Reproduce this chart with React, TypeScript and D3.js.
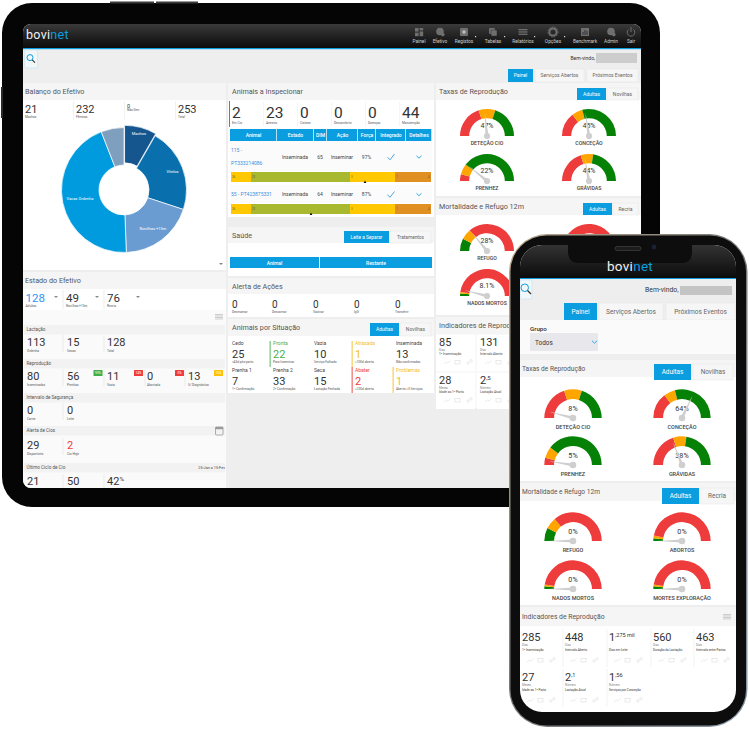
import React from "react";
import * as d3 from "d3";

// ---- values ----
const pieNames = ["Machos", "Vitelos", "Novilhas +15m", "Vacas Ordenha", ""];
const pieValues = [21, 55, 49, 113, 15];
const pieColors = ["#15568f", "#0a6fad", "#6a9cd2", "#009bdf", "#7f9fbe"];

const balanceValues = ["21", "232", "0", "253"];
const balanceLabels = ["Machos", "Fêmeas", "Não Gen", "Total"];

const stateValues = ["128", "49", "76"];
const stateLabels = ["Adultas", "Novilhas +15m", "Recria"];
const lactValues = ["113", "15", "128"];
const lactLabels = ["Ordenha", "Secas", "Total"];
const reproValues = ["80", "56", "11", "0", "13"];
const reproLabels = ["Inseminadas", "Prenhas", "Vazia", "Abortada", "S/ Diagnóstico"];
const reproBadges = ["", "93%", "14%", "0%", "16%"];
const reproBadgeColors = ["", "#3fae49", "#ee3c3c", "#ee3c3c", "#ffc107"];
const safetyValues = ["0", "0"];
const safetyLabels = ["Carne", "Leite"];
const heatValues = ["29", "2"];
const heatLabels = ["Disponíveis", "Cio Hoje"];
const cycleValues = ["21", "50", "42"];

const inspectValues = ["2", "23", "0", "0", "0", "44"];
const inspectLabels = ["Em Cio", "Anestro", "Cistose", "Desconforto", "Doenças", "Manutenção"];
const tableHeads = ["Animal", "Estado", "DIM", "Ação", "Força", "Integrado", "Detalhes"];
const animalDim = ["65", "64"];
const animalForce = ["97%", "87%"];
const cycleBands = [10, 49.5, 22.5, 18];
const cycleBandColors = ["#ffc800", "#a8b82f", "#ffc800", "#e09020"];
const cycleBandTexts = ["26", "23", "3", "1"];
const cycleMarkers = [67, 40];

const actionValues = ["0", "0", "0", "0", "0"];
const actionLabels = ["Desmamar", "Descornar", "Vacinar", "IgG", "Transferir"];

const situationTitles = ["Cedo", "Pronta", "Vazia", "Atrasada", "Inseminada", "Prenha 1", "Prenha 2", "Seca", "Abater", "Problemas"];
const situationValues = ["25", "22", "10", "1", "13", "7", "33", "15", "2", "1"];
const situationNotes = ["<45d pós-parto", "Para Inseminar", "Serviço Falhado", ">100d aberta", "Não confirmadas", "1ª Confirmação", "2ª Confirmação", "Lactação Fechada", ">230d aberta", "Aberta >3 Serviços"];
const situationColors = ["#444", "#4caf50", "#444", "#f5bd1f", "#444", "#444", "#444", "#444", "#ee3c3c", "#f5bd1f"];

const rateNames = ["DETEÇÃO CIO", "CONCEÇÃO", "PRENHEZ", "GRÁVIDAS"];
const rateBands = [[40, 60], [29, 42], [8, 21], [40, 55]];
const tabletRates = [47, 45, 22, 44];
const phoneRates = [8, 64, 5, 38];
const lossNames = ["REFUGO", "ABORTOS", "NADOS MORTOS", "MORTES EXPLORAÇÃO"];
const lossBands = [[15, 28], [3, 6], [3, 5], [3, 5]];
const tabletLosses = [28, 0, 8.1, 0];
const phoneLosses = [0, 0, 0, 0];
const rateColors = ["#ee3c3c", "#ffa500", "#058205"];
const lossColors = ["#058205", "#ffa500", "#ee3c3c"];

const kpiValues = ["285", "448", "1", "560", "463", "27", "2", "1"];
const kpiSups = ["", "", ",275 mil", "", "", "", ",1", ",56"];
const kpiUnits = ["Dias", "Dias", "", "Dias", "Dias", "Meses", "Número", "Número"];
const kpiNames = ["1ª Inseminação", "Intervalo Aberto", "Dias em Leite", "Duração da Lactação", "Intervalo entre Partos", "Idade ao 1º Parto", "Lactação Atual", "Serviços por Conceção"];
const tabletKpiValues = ["85", "131", "28", "2"];
const tabletKpiSups = ["", "", "", ",5"];
const tabletKpiUnits = ["Dias", "Dias", "Meses", "Número"];
const tabletKpiNames = ["1ª Inseminação", "Intervalo Aberto", "Idade ao 1º Parto", "Lactação Atual"];

const navLabels = ["Painel", "Efetivo", "Registos", "Tabelas", "Relatórios", "Opções", "Benchmark", "Admin", "Sair"];

// ---- styling ----
const FONT = "Roboto, sans-serif";
const BLUE = "#0a9ddf";
const INK = "#444";

const T = ({ x, y, s = 6, c = INK, a = "start", w = 400, children }: any) => (
    <text x={x} y={y} fontSize={s} fill={c} textAnchor={a} fontWeight={w} fontFamily={FONT}>{children}</text>
);

const Stat = ({ x, y, value, sup, label, size = 12, color = "#333", labelSize = 3.2, gap = 4.5 }: any) => (
    <g>
        <text x={x} y={y} fontSize={size} fill={color} fontFamily={FONT}>
            {value}
            {sup ? <tspan fontSize={size * 0.55} dy={-size * 0.36}>{sup}</tspan> : null}
        </text>
        <T x={x} y={y + gap} s={labelSize} c="#555">{label}</T>
    </g>
);

const Header = ({ x, y, w, h = 17, title, size = 7.2, tx = 3 }: any) => (
    <g>
        <rect x={x} y={y} width={w} height={h} fill="#f5f5f5" />
        <T x={x + tx} y={y + h / 2 + size * 0.36} s={size} c="#555">{title}</T>
    </g>
);

const Tab = ({ x0, x1, y0, y1, label, active, size = 5 }: any) => (
    <g>
        <rect x={x0} y={y0} width={x1 - x0} height={y1 - y0} fill={active ? BLUE : "#f6f6f6"} stroke={active ? "none" : "#e6e6e6"} strokeWidth={0.5} />
        <T x={(x0 + x1) / 2} y={(y0 + y1) / 2 + size * 0.36} s={size} a="middle" c={active ? "#fff" : "#666"}>{label}</T>
    </g>
);

// half-doughnut gauge, three bands and a needle
const Gauge = ({ cx, cy, r, bands, colors, value, text, name, valueDy, nameDy, valueSize, nameSize }: any) => {
    const angle = d3.scaleLinear().domain([0, 100]).range([-Math.PI / 2, Math.PI / 2]);
    const arc = d3.arc<any>().innerRadius(r * 0.66).outerRadius(r);
    const edges = [0, bands[0], bands[1], 100];
    const a = angle(value);
    const len = r * 0.86;
    const needle = d3.line()([
        [Math.sin(a) * len, -Math.cos(a) * len],
        [Math.cos(a) * 1.6, Math.sin(a) * 1.6],
        [-Math.cos(a) * 1.6, -Math.sin(a) * 1.6],
    ]) as string;
    return (
        <g transform={`translate(${cx},${cy})`}>
            {colors.map((c: string, i: number) => (
                <path key={i} fill={c} d={arc({ startAngle: angle(edges[i]), endAngle: angle(edges[i + 1]) }) as string} />
            ))}
            <T x={0} y={valueDy} s={valueSize} a="middle" c="#333">{text ?? `${value}%`}</T>
            <path d={needle} fill="#cfcfcf" />
            <circle r={r * 0.115} fill="#cfcfcf" />
            <T x={0} y={nameDy} s={nameSize} a="middle" c="#444" w={500}>{name}</T>
        </g>
    );
};

const MiniIcons = ({ x, y }: any) => (
    <g transform={`translate(${x},${y})`} fill="none" stroke="#e2e2e2" strokeWidth={0.7}>
        <path d="M0 2 L2.5 0 L4 1.2 L6.5 -1.5" />
        <rect x={11} y={-1.5} width={5} height={3.5} />
        <circle cx={24} cy={1} r={1.2} />
        <circle cx={27} cy={-1.2} r={1.2} />
    </g>
);

const MenuIcon = ({ x, y }: any) => (
    <g fill="#c9c9c9">
        {[0, 1, 2, 3].map(i => <rect key={i} x={x} y={y + i * 1.5} width={8} height={0.9} />)}
    </g>
);

const Search = ({ x, y, w, h, k = 1 }: any) => (
    <g>
        <rect x={x} y={y} width={w} height={h} rx={1.5} fill="#f2f7fa" stroke="#bfe3f4" strokeWidth={0.6} />
        <circle cx={x + w / 2 - 1 * k} cy={y + h / 2 - 1.4 * k} r={3 * k} fill="none" stroke={BLUE} strokeWidth={1} />
        <line x1={x + w / 2 + 1.2 * k} y1={y + h / 2 + 0.8 * k} x2={x + w / 2 + 4 * k} y2={y + h / 2 + 3.6 * k} stroke="#333" strokeWidth={1.2} />
    </g>
);

const Logo = ({ x, y, s, a = "start" }: any) => (
    <text x={x} y={y} fontSize={s} fontFamily={FONT} textAnchor={a} letterSpacing={0.3}>
        <tspan fill="#f2f2f2">bovi</tspan><tspan fill={BLUE}>net</tspan>
    </text>
);

const NavIcon = ({ x, y, i }: any) => {
    const c = "#6f6f6f";
    const name = navLabels[i];
    if (name === "Painel") return <g fill={c}><rect x={x - 4} y={y - 4} width={3.6} height={3.6} /><rect x={x + 0.6} y={y - 4} width={3.6} height={2.4} /><rect x={x - 4} y={y + 0.6} width={3.6} height={3.6} /><rect x={x + 0.6} y={y - 0.6} width={3.6} height={4.8} /></g>;
    if (name === "Registos") return <g><rect x={x - 4} y={y - 4} width={8} height={8} rx={1} fill={c} /><path d={`M${x - 2} ${y}H${x + 2}M${x} ${y - 2}V${y + 2}`} stroke="#ddd" strokeWidth={0.9} /></g>;
    if (name === "Tabelas") return <g fill={c}><rect x={x - 4} y={y - 4} width={6} height={6} rx={1} /><rect x={x - 2} y={y - 2} width={6} height={6} rx={1} stroke="#222" strokeWidth={0.4} /></g>;
    if (name === "Relatórios") return <g fill={c}>{[0, 1, 2].map(k => <rect key={k} x={x - 4.5} y={y - 3 + k * 2.3} width={9} height={1.3} />)}</g>;
    if (name === "Opções") return <g><circle cx={x} cy={y} r={3.6} fill="none" stroke={c} strokeWidth={2} /><circle cx={x} cy={y} r={5} fill="none" stroke={c} strokeWidth={1} strokeDasharray="1.5 1.2" /></g>;
    if (name === "Benchmark") return <g><rect x={x - 4} y={y - 4} width={8} height={8} fill={c} /><path d={`M${x - 2} ${y + 3}V${y}M${x} ${y + 3}V${y - 2}M${x + 2} ${y + 3}V${y - 1}`} stroke="#222" strokeWidth={0.8} /></g>;
    if (name === "Sair") return <g fill="none" stroke={c} strokeWidth={1}><path d={`M${x - 2.4} ${y - 2.6}A3.8 3.8 0 1 0 ${x + 2.4} ${y - 2.6}`} /><line x1={x} y1={y - 5} x2={x} y2={y} /></g>;
    return <g fill={c}><circle cx={x} cy={y - 0.5} r={3.8} /><circle cx={x + 2.8} cy={y + 2.6} r={1.8} /></g>;
};

const Check = ({ x, y }: any) => <path d={`M${x - 3.5} ${y + 0.2} L${x - 1} ${y + 2.8} L${x + 3.5} ${y - 3}`} fill="none" stroke="#3a9bdc" strokeWidth={0.9} />;
const Chevron = ({ x, y }: any) => <path d={`M${x - 2.5} ${y - 1.2} L${x} ${y + 1.2} L${x + 2.5} ${y - 1.2}`} fill="none" stroke="#1aa0e0" strokeWidth={0.9} />;
const Caret = ({ x, y }: any) => <path d={`M${x - 2} ${y - 1} H${x + 2} L${x} ${y + 1} Z`} fill="#888" />;

const BalancePie = ({ cx, cy }: any) => {
    const arcs = d3.pie<number>().sort(null)(pieValues);
    const arc = d3.arc<any>().innerRadius(25).outerRadius(62.5);
    const labelRadius = [58, 52, 48, 45, 45];
    return (
        <g transform={`translate(${cx},${cy})`}>
            {arcs.map((d, i) => {
                const mid = (d.startAngle + d.endAngle) / 2;
                const off = i === 0 ? 2.2 : 0;
                const lx = Math.sin(mid) * labelRadius[i];
                const ly = -Math.cos(mid) * labelRadius[i];
                return (
                    <g key={i}>
                        <path d={arc(d) as string} fill={pieColors[i]} stroke="#fff" strokeWidth={0.7}
                            transform={`translate(${Math.sin(mid) * off},${-Math.cos(mid) * off})`} />
                        <T x={lx} y={ly + 1.3} s={4} a="middle" c="#fff">{pieNames[i]}</T>
                    </g>
                );
            })}
        </g>
    );
};

const CycleBar = ({ y, marker }: any) => {
    const x = d3.scaleLinear().domain([0, 100]).range([231, 431]);
    const edges = d3.cumsum([0, ...cycleBands]);
    return (
        <g>
            {cycleBands.map((v, i) => (
                <g key={i}>
                    <rect x={x(edges[i])} y={y} width={x(edges[i] + v) - x(edges[i])} height={10} fill={cycleBandColors[i]} />
                    <T x={x(edges[i]) + 1} y={y + 5.8} s={2.8} c="#555">{cycleBandTexts[i]}</T>
                </g>
            ))}
            <T x={429.5} y={y + 5.8} s={2.8} c="#555" a="end">4</T>
            <path d={`M${x(marker) - 1.4} ${y + 11} H${x(marker) + 1.4} L${x(marker)} ${y + 8.4} Z`} fill="#111" />
        </g>
    );
};

const Tablet = () => {
    const balanceX = [25, 76, 127, 178];
    const col3 = [27, 67, 107, 147, 188];
    const divs = [63, 104, 145, 185];
    const rx = [487, 589];
    const inspectX = [232, 266, 300, 334, 368, 402];
    const colEdges = [230, 277, 314, 327, 358, 376, 406, 432];
    const actionX = [232, 272, 313, 354, 395];
    const situationX = [232, 273, 314, 355, 396];
    const navX = [419, 440, 464, 493, 523, 553, 585, 611, 631];
    const stripes = [
        { y: 325, label: "Lactação" },
        { y: 359, label: "Reprodução" },
        { y: 393, label: "Intervalo de Segurança" },
        { y: 426, label: "Alerta de Cios" },
        { y: 463, label: "Último Ciclo de Cio" },
    ];
    const rows = [
        { labels: lactLabels, values: lactValues, y: 346 },
        { labels: reproLabels, values: reproValues, y: 380 },
        { labels: safetyLabels, values: safetyValues, y: 414 },
        { labels: heatLabels, values: heatValues, y: 449 },
    ];
    return (
        <g>
            <rect x={2} y={3} width={658} height={504} rx={30} fill="#050505" />
            <rect x={110} y={1.5} width={44} height={2} fill="#3a3a3a" />
            <rect x={156} y={1.5} width={42} height={2} fill="#3a3a3a" />
            <rect x={1} y={87} width={2} height={31} fill="#2a2a2a" />
            <clipPath id="tabletScreen"><rect x={23} y={24} width={618} height={464} rx={8} /></clipPath>
            <g clipPath="url(#tabletScreen)">
                <rect x={23} y={24} width={618} height={464} fill="#eeeeee" />
                <rect x={23} y={24} width={618} height={24} fill="url(#headGrad)" />
                <rect x={23} y={48} width={618} height={1.2} fill={BLUE} />
                <Logo x={26} y={39} s={12.5} />
                {navLabels.map((n, i) => (
                    <g key={n}>
                        <NavIcon x={navX[i]} y={32} i={i} />
                        <T x={navX[i]} y={43} s={4.8} a="middle" c="#cfcfcf">{n}</T>
                        {i >= 2 && i <= 5 ? <rect x={navX[i] + 11} y={36} width={1.2} height={1.2} fill="#ddd" /> : null}
                    </g>
                ))}
                <Search x={24.5} y={50} w={13} h={18} />
                <T x={595} y={60} s={5} a="end" c="#333">Bem-vindo,</T>
                <rect x={596} y={53} width={41} height={10} fill="#cdcdcd" />
                <Tab x0={508} x1={533} y0={69} y1={82} label="Painel" active size={5} />
                <Tab x0={535} x1={584} y0={69} y1={82} label="Serviços Abertos" size={5} />
                <Tab x0={587} x1={638} y0={69} y1={82} label="Próximos Eventos" size={5} />

                {/* left column */}
                <rect x={23} y={83} width={203} height={187} fill="#fff" />
                <Header x={23} y={83} w={203} title="Balanço do Efetivo" tx={2} />
                {balanceValues.map((v, i) => (
                    <g key={i}>
                        {i === 2
                            ? <Stat x={balanceX[i]} y={108} value={v} label={balanceLabels[i]} size={5.5} gap={3.2} />
                            : <Stat x={balanceX[i]} y={112.5} value={v} label={balanceLabels[i]} size={11} gap={5.6} />}
                        {i > 0 ? <line x1={balanceX[i] - 2.5} x2={balanceX[i] - 2.5} y1={101} y2={120} stroke="#e8e8e8" strokeWidth={0.6} /> : null}
                    </g>
                ))}
                <BalancePie cx={124} cy={190} />
                <Caret x={221} y={264} />

                <rect x={23} y={272} width={203} height={216} fill="#fafafa" />
                <Header x={23} y={272} w={203} title="Estado do Efetivo" tx={2} />
                <rect x={23} y={289} width={203} height={21} fill="#fff" />
                {stateValues.map((v, i) => (
                    <g key={i}>
                        <Stat x={[25.5, 66, 107][i]} y={301.5} value={v} label={stateLabels[i]} size={11.5} gap={5.6} color={i === 0 ? "#2f96f0" : "#333"} />
                        <Caret x={[56, 97, 138][i]} y={297} />
                        {i < 2 ? <line x1={divs[i]} x2={divs[i]} y1={290} y2={309} stroke="#e4e4e4" strokeWidth={0.7} /> : null}
                    </g>
                ))}
                <MenuIcon x={215} y={314} />
                {stripes.map(s => (
                    <g key={s.y}>
                        <rect x={24} y={s.y} width={201} height={9.5} fill="#f2f2f2" />
                        <T x={26.5} y={s.y + 6.2} s={4.6} c="#555">{s.label}</T>
                    </g>
                ))}
                {rows.map(r => r.values.map((v, i) => (
                    <g key={`${r.y}-${i}`}>
                        <Stat x={col3[i]} y={r.y} value={v} label={r.labels[i]} size={11} gap={5.6} color={r.y === 449 && i === 1 ? "#ee3c3c" : "#333"} />
                        {i < r.values.length - 1 ? <line x1={divs[i]} x2={divs[i]} y1={r.y - 11} y2={r.y + 6} stroke="#e4e4e4" strokeWidth={0.7} /> : null}
                    </g>
                )))}
                {reproBadges.map((b, i) => b ? (
                    <g key={i}>
                        <rect x={[0, 93.5, 134, 175, 214][i]} y={370} width={9} height={6} rx={0.6} fill={reproBadgeColors[i]} />
                        <T x={[0, 98, 138.5, 179.5, 218.5][i]} y={374.2} s={3.2} a="middle" c="#fff">{b}</T>
                    </g>
                ) : null)}
                <rect x={215.5} y={427} width={7.5} height={8} rx={0.8} fill="none" stroke="#999" strokeWidth={0.8} />
                <rect x={215.5} y={427} width={7.5} height={2.2} fill="#999" />
                <T x={225} y={468.5} s={3.8} a="end" c="#444">25-Jan a 15-Fev</T>
                {cycleValues.map((v, i) => (
                    <g key={i}>
                        <Stat x={col3[i]} y={485} value={v} sup={i === 2 ? "%" : ""} label="" size={11} />
                        {i < 2 ? <line x1={divs[i]} x2={divs[i]} y1={474} y2={488} stroke="#e4e4e4" strokeWidth={0.7} /> : null}
                    </g>
                ))}

                {/* middle column */}
                <rect x={228} y={83} width={206} height={134} fill="#fff" />
                <Header x={228} y={83} w={206} title="Animais a Inspecionar" tx={4} />
                <rect x={229} y={101} width={1} height={26} fill={BLUE} />
                {inspectValues.map((v, i) => (
                    <g key={i}>
                        <Stat x={inspectX[i]} y={118} value={v} label={inspectLabels[i]} size={15.5} gap={6} />
                        {i > 0 ? <line x1={inspectX[i] - 2.5} x2={inspectX[i] - 2.5} y1={102} y2={126} stroke="#eee" strokeWidth={0.6} /> : null}
                    </g>
                ))}
                {tableHeads.map((h, i) => (
                    <g key={h}>
                        <rect x={colEdges[i]} y={129} width={colEdges[i + 1] - colEdges[i] - 0.7} height={12} fill={BLUE} />
                        <T x={(colEdges[i] + colEdges[i + 1]) / 2} y={137} s={5} a="middle" c="#fff" w={500}>{h}</T>
                    </g>
                ))}
                <rect x={230} y={141} width={202} height={30} fill="#fbfbfb" />
                <rect x={230} y={185} width={202} height={18} fill="#fbfbfb" />
                <T x={231} y={152} s={5} c="#3b8fe0">115 -</T>
                <T x={231} y={164.5} s={5} c="#3b8fe0">PT333214086</T>
                <T x={231} y={196} s={5} c="#3b8fe0">55 - PT423875331</T>
                {animalDim.map((d, i) => {
                    const y = i === 0 ? 158.5 : 196;
                    return (
                        <g key={i}>
                            <T x={295} y={y} s={5} a="middle">Inseminada</T>
                            <T x={320} y={y} s={5} a="middle">{d}</T>
                            <T x={342} y={y} s={5} a="middle">Inseminar</T>
                            <T x={366.5} y={y} s={5} a="middle">{animalForce[i]}</T>
                            <Check x={391} y={y - 1.5} />
                            <Chevron x={419} y={y - 1.5} />
                        </g>
                    );
                })}
                <CycleBar y={172} marker={cycleMarkers[0]} />
                <CycleBar y={204} marker={cycleMarkers[1]} />

                <rect x={228} y={227} width={206} height={49} fill="#fff" />
                <Header x={228} y={227} w={206} h={16} title="Saúde" tx={4} />
                <Tab x0={344} x1={389} y0={231} y1={243} label="Leite a Separar" active size={4.8} />
                <Tab x0={390} x1={431} y0={231} y1={243} label="Tratamentos" size={4.8} />
                <rect x={230} y={257} width={89} height={11} fill={BLUE} />
                <rect x={320} y={257} width={112} height={11} fill={BLUE} />
                <T x={274.5} y={264.5} s={5} a="middle" c="#fff" w={500}>Animal</T>
                <T x={376} y={264.5} s={5} a="middle" c="#fff" w={500}>Restante</T>

                <rect x={228} y={278} width={206} height={39} fill="#fff" />
                <Header x={228} y={278} w={206} h={16} title="Alerta de Ações" tx={4} />
                {actionValues.map((v, i) => <Stat key={i} x={actionX[i]} y={307.5} value={v} label={actionLabels[i]} size={10} gap={5.4} />)}

                <rect x={228} y={319} width={206} height={74} fill="#fff" />
                <Header x={228} y={319} w={206} title="Animais por Situação" tx={4} />
                <Tab x0={370} x1={399} y0={323} y1={336} label="Adultas" active size={5} />
                <Tab x0={400} x1={431} y0={323} y1={336} label="Novilhas" size={5} />
                {situationTitles.map((t, i) => {
                    const x = situationX[i % 5];
                    const top = i < 5 ? 345 : 372;
                    return (
                        <g key={i}>
                            {i === 1 || i === 3 || i === 8 || i === 9 ? <rect x={x - 3.5} y={i < 5 ? 341 : 367} width={1.3} height={26} fill={situationColors[i]} opacity={0.7} /> : null}
                            <T x={x} y={top} s={5} c={situationColors[i]}>{t}</T>
                            <T x={x} y={top + 12.6} s={11} c={situationColors[i] === "#444" ? "#333" : situationColors[i]}>{situationValues[i]}</T>
                            <T x={x} y={top + 18.2} s={3.2} c="#555">{situationNotes[i]}</T>
                        </g>
                    );
                })}

                {/* right column */}
                <rect x={436} y={83} width={205} height={113} fill="#fff" />
                <Header x={436} y={83} w={205} title="Taxas de Reprodução" />
                <Tab x0={577} x1={606} y0={88} y1={100} label="Adultas" active size={5} />
                <Tab x0={607} x1={638} y0={88} y1={100} label="Novilhas" size={5} />
                {rateNames.map((n, i) => (
                    <Gauge key={n} cx={rx[i % 2]} cy={i < 2 ? 136 : 181} r={27} bands={rateBands[i]} colors={rateColors}
                        value={tabletRates[i]} name={n} valueDy={-8} nameDy={8.5} valueSize={7} nameSize={5.2} />
                ))}
                <rect x={436} y={198} width={205} height={117} fill="#fff" />
                <Header x={436} y={198} w={205} title="Mortalidade e Refugo 12m" />
                <Tab x0={583} x1={612} y0={203} y1={215} label="Adultas" active size={5} />
                <Tab x0={613} x1={638} y0={203} y1={215} label="Recria" size={5} />
                {lossNames.map((n, i) => (
                    <Gauge key={n} cx={rx[i % 2]} cy={i < 2 ? 251 : 296} r={27} bands={lossBands[i]} colors={lossColors}
                        value={tabletLosses[i]} name={n} valueDy={-8} nameDy={8.5} valueSize={7} nameSize={5.2} />
                ))}
                <rect x={436} y={317} width={205} height={91} fill="#f9f9f9" />
                <Header x={436} y={317} w={205} title="Indicadores de Reprodução" />
                {tabletKpiValues.map((v, i) => {
                    const x = 439 + (i % 2) * 41;
                    const y = i < 2 ? 346 : 384;
                    return (
                        <g key={i}>
                            <rect x={x - 3} y={y - 11} width={39} height={36} fill="#fff" />
                            <text x={x} y={y} fontSize={11} fill="#333" fontFamily={FONT}>{v}{tabletKpiSups[i] ? <tspan fontSize={6} dy={-4}>{tabletKpiSups[i]}</tspan> : null}</text>
                            <T x={x} y={y + 5.2} s={3} c="#888">{tabletKpiUnits[i]}</T>
                            <T x={x} y={y + 9.4} s={3.2} c="#444">{tabletKpiNames[i]}</T>
                            <MiniIcons x={x + 5} y={y + 16} />
                        </g>
                    );
                })}
            </g>
        </g>
    );
};

const Phone = () => {
    const gx = [573, 682];
    const kpiX = [522, 565, 609, 653, 696];
    return (
        <g>
            <rect x={509} y={234} width={238.5} height={493} rx={38} fill="url(#rimGrad)" />
            <rect x={510.5} y={235.5} width={235.5} height={490} rx={36} fill="#0d0d0d" />
            <clipPath id="phoneScreen"><rect x={520} y={245} width={216} height={467} rx={22} /></clipPath>
            <g clipPath="url(#phoneScreen)">
                <rect x={520} y={245} width={216} height={467} fill="#fff" />
                <rect x={520} y={245} width={216} height={33} fill="url(#phoneHead)" />
                <rect x={520} y={278} width={216} height={1.2} fill={BLUE} />
                <rect x={520} y={279} width={216} height={41} fill="#eeeeee" />
                <Search x={520} y={280} w={12} h={19} k={1.25} />
                <T x={678.5} y={292} s={6.8} a="end" c="#333">Bem-vindo,</T>
                <rect x={680} y={286} width={52} height={9} fill="#c4c4c4" />
                <Tab x0={564} x1={597} y0={303} y1={320} label="Painel" active size={6.6} />
                <Tab x0={599} x1={663} y0={303} y1={320} label="Serviços Abertos" size={6.6} />
                <Tab x0={666} x1={735} y0={303} y1={320} label="Próximos Eventos" size={6.6} />
                <rect x={520} y={320} width={216} height={34} fill="#fafafa" />
                <T x={530} y={331} s={6.2} c="#333" w={500}>Grupo</T>
                <rect x={530} y={333} width={68} height={18} rx={1} fill="#e8e8ec" />
                <T x={535} y={344.5} s={6.4} c="#333">Todos</T>
                <Chevron x={594.5} y={342} />
                <rect x={520} y={354} width={216} height={6} fill="#eeeeee" />
                <Header x={520} y={360} w={216} title="Taxas de Reprodução" size={6.6} tx={2} />
                <Tab x0={654} x1={691} y0={364} y1={380} label="Adultas" active size={6.4} />
                <Tab x0={693} x1={733} y0={364} y1={380} label="Novilhas" size={6.4} />
                {rateNames.map((n, i) => (
                    <Gauge key={n} cx={gx[i % 2]} cy={i < 2 ? 418 : 465} r={28.7} bands={rateBands[i]} colors={rateColors}
                        value={phoneRates[i]} name={n} valueDy={-7.5} nameDy={10.5} valueSize={7.2} nameSize={5.5} />
                ))}
                <rect x={520} y={481} width={216} height={2} fill="#eeeeee" />
                <Header x={520} y={483} w={216} h={18} title="Mortalidade e Refugo 12m" size={6.6} tx={2} />
                <Tab x0={662} x1={699} y0={488} y1={504} label="Adultas" active size={6.4} />
                <Tab x0={700} x1={734} y0={488} y1={504} label="Recria" size={6.4} />
                {lossNames.map((n, i) => (
                    <Gauge key={n} cx={gx[i % 2]} cy={i < 2 ? 541 : 589} r={28.7} bands={lossBands[i]} colors={lossColors}
                        value={phoneLosses[i]} name={n} valueDy={-7.5} nameDy={10.5} valueSize={7.2} nameSize={5.5} />
                ))}
                <rect x={520} y={605} width={216} height={2} fill="#eeeeee" />
                <Header x={520} y={607} w={216} h={19} title="Indicadores de Reprodução" size={6.8} tx={2} />
                <MenuIcon x={723} y={614} />
                {kpiValues.map((v, i) => {
                    const x = kpiX[i < 5 ? i : i - 5];
                    const y = i < 5 ? 641 : 681;
                    return (
                        <g key={i}>
                            <line x1={x - 2} x2={x - 2} y1={y - 12} y2={y + 26} stroke="#eee" strokeWidth={0.7} opacity={i % 5 === 0 ? 0 : 1} />
                            <text x={x} y={y} fontSize={11} fill="#333" fontFamily={FONT}>{v}{kpiSups[i] ? <tspan fontSize={5.6} dy={-3.8}>{kpiSups[i]}</tspan> : null}</text>
                            <T x={x} y={y + 5.4} s={3} c="#888">{kpiUnits[i]}</T>
                            <T x={x} y={y + 9.6} s={3.1} c="#333">{kpiNames[i]}</T>
                            <MiniIcons x={x + 5} y={y + 19} />
                        </g>
                    );
                })}
            </g>
            <path d="M568 245 V252 Q568 263 579 263 H682 Q692 263 692 252 V245 Z" fill="#0d0d0d" />
            <rect x={615} y={246.5} width={26} height={4} rx={2} fill="#1c1c1c" stroke="#555" strokeWidth={0.5} />
            <circle cx={654} cy={247} r={2.4} fill="#1a2233" />
            <Logo x={630} y={271} s={13.5} a="middle" />
        </g>
    );
};

const App: React.FC = () => (
    <svg width={749} height={729} viewBox="0 0 749 729" style={{ position: "absolute", left: 0, top: 0, background: "#fff" }}>
        <defs>
            <linearGradient id="headGrad" x1="0" y1="0" x2="0" y2="1">
                <stop offset="0" stopColor="#3a3a3a" />
                <stop offset="0.5" stopColor="#222" />
                <stop offset="1" stopColor="#0c0c0c" />
            </linearGradient>
            <linearGradient id="phoneHead" x1="0" y1="0" x2="0" y2="1">
                <stop offset="0" stopColor="#333" />
                <stop offset="1" stopColor="#0b0b0b" />
            </linearGradient>
            <linearGradient id="rimGrad" x1="0" y1="0" x2="1" y2="1">
                <stop offset="0" stopColor="#b9a88f" />
                <stop offset="0.5" stopColor="#777" />
                <stop offset="1" stopColor="#8a97a5" />
            </linearGradient>
        </defs>
        <Tablet />
        <Phone />
    </svg>
);

export default App;
